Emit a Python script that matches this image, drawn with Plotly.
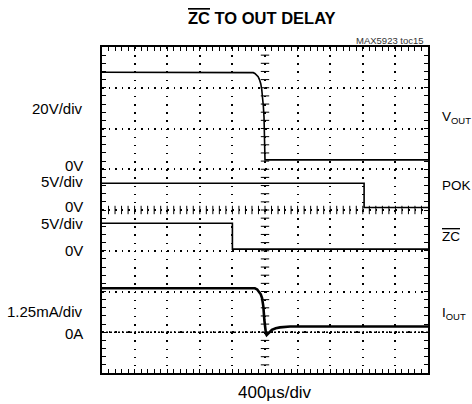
import plotly.graph_objects as go

# time axis in divisions (400us/div), vertical in divisions (8 div screen)
VOUT_X = [0, 4.59, 4.64, 4.69, 4.74, 4.79, 4.83, 4.87, 4.90, 4.93, 4.95, 4.97, 4.98, 4.99, 5.0, 10]
VOUT_Y = [7.38, 7.38, 7.37, 7.35, 7.32, 7.27, 7.20, 7.10, 6.96, 6.76, 6.54, 6.28, 6.04, 5.70, 5.23, 5.23]

POK_X = [0, 8.04, 8.04, 10]
POK_Y = [4.655, 4.655, 4.06, 4.06]

ZC_X = [0, 4.0, 4.0, 10]
ZC_Y = [3.674, 3.674, 3.04, 3.04]

IOUT_X = [0, 4.69, 4.76, 4.82, 4.87, 4.91, 4.95, 4.98, 5.0, 5.03, 5.05, 5.12, 5.21, 5.33, 5.46, 5.77, 10]
IOUT_Y = [2.08, 2.08, 2.05, 1.99, 1.93, 1.84, 1.63, 1.30, 1.06, 0.96, 0.93, 0.98, 1.06, 1.10, 1.12, 1.14, 1.14]

ZERO_A_X = [0, 10]
ZERO_A_Y = [1, 1]

LEFT_LABELS = ["20V/div", "0V", "5V/div", "0V", "5V/div", "0V", "1.25mA/div", "0A"]
LEFT_LABEL_Y = [6.48, 5.08, 4.71, 4.08, 3.67, 3.0, 1.5, 0.96]
RIGHT_LABELS = ["V<sub>OUT</sub>", "POK", "<span style='text-decoration:overline'>ZC</span>", "I<sub>OUT</sub>"]
RIGHT_LABEL_Y = [6.28, 4.61, 3.36, 1.45]

FONT = "Liberation Sans, Arial, sans-serif"

fig = go.Figure()

# center graticule cross ticks
cy = [i * 0.2 for i in range(1, 40)]
cx = [i * 0.2 for i in range(1, 50)]
fig.add_trace(go.Scatter(x=[5] * len(cy), y=cy, mode="markers",
                         marker=dict(symbol="line-ew", size=6, line=dict(width=1, color="black")),
                         hoverinfo="skip", showlegend=False))
fig.add_trace(go.Scatter(x=cx, y=[4] * len(cx), mode="markers",
                         marker=dict(symbol="line-ns", size=6, line=dict(width=1, color="black")),
                         hoverinfo="skip", showlegend=False))

fig.add_trace(go.Scatter(x=ZERO_A_X, y=ZERO_A_Y, mode="lines",
                         line=dict(color="black", width=1.5, dash="2px,2px"), showlegend=False))

line_style = dict(color="black", width=1.6)
fig.add_trace(go.Scatter(x=VOUT_X, y=VOUT_Y, mode="lines", line=line_style, showlegend=False))
fig.add_trace(go.Scatter(x=POK_X, y=POK_Y, mode="lines", line=line_style, showlegend=False))
fig.add_trace(go.Scatter(x=ZC_X, y=ZC_Y, mode="lines", line=line_style, showlegend=False))
fig.add_trace(go.Scatter(x=IOUT_X, y=IOUT_Y, mode="lines", line=dict(color="black", width=2.6), showlegend=False))

axis_common = dict(showline=True, linecolor="black", linewidth=2, mirror="allticks",
                   ticks="inside", ticklen=4, tickcolor="black", tickwidth=1,
                   showticklabels=False, zeroline=False, showgrid=True,
                   gridcolor="black", gridwidth=1.5, fixedrange=True)

fig.update_xaxes(range=[0, 10], dtick=1, griddash="1.5px,6.65px",
                 minor=dict(dtick=0.2, ticks="inside", ticklen=4, tickcolor="black", showgrid=False),
                 **axis_common)
fig.update_yaxes(range=[0, 8], dtick=1, griddash="1.5px,5.02px",
                 minor=dict(dtick=0.2, ticks="inside", ticklen=4, tickcolor="black", showgrid=False),
                 **axis_common)

ann = []
for t, y in zip(LEFT_LABELS, LEFT_LABEL_Y):
    ann.append(dict(text=t, x=-0.052, y=y, xref="paper", yref="y", xanchor="right", yanchor="middle",
                    showarrow=False, font=dict(family=FONT, size=15, color="black")))
for t, y in zip(RIGHT_LABELS, RIGHT_LABEL_Y):
    ann.append(dict(text=t, x=1.036, y=y, xref="paper", yref="y", xanchor="left", yanchor="middle",
                    showarrow=False, font=dict(family=FONT, size=13.5, color="black")))
ann.append(dict(text="400µs/div", x=0.53, y=-0.061, xref="paper", yref="paper", xanchor="center",
                yanchor="middle", showarrow=False, font=dict(family=FONT, size=17, color="black")))
ann.append(dict(text="<b><span style='text-decoration:overline'>ZC</span> TO OUT DELAY</b>",
                x=0.492, y=1.088, xref="paper", yref="paper", xanchor="center", yanchor="middle",
                showarrow=False, font=dict(family=FONT, size=16.5, color="black")))
ann.append(dict(text="MAX5923 toc15", x=0.994, y=1.02, xref="paper", yref="paper", xanchor="right",
                yanchor="middle", showarrow=False, font=dict(family=FONT, size=9.5, color="#333")))

fig.update_layout(width=472, height=404, margin=dict(l=102, r=44, t=47, b=31),
                  plot_bgcolor="white", paper_bgcolor="white", annotations=ann)

# remove the browser's default page margin so the figure fills the window exactly
fig.write_html("out.html", config={"displayModeBar": False},
               post_script="document.body.style.margin='0';document.body.style.overflow='hidden';")
